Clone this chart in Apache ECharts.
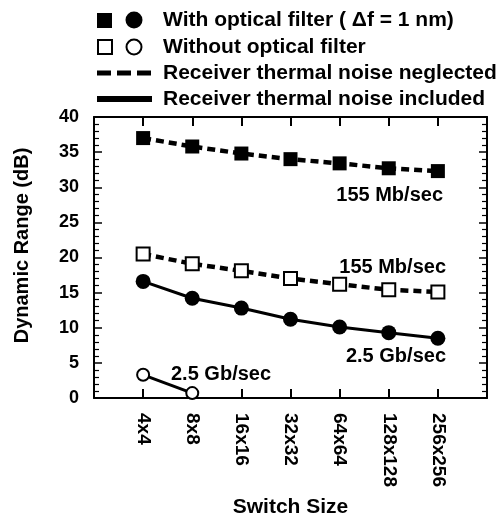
<!DOCTYPE html>
<html>
<head>
<meta charset="utf-8">
<script src="https://cdn.jsdelivr.net/npm/echarts@6/dist/echarts.min.js"></script>
<style>
html,body{margin:0;padding:0;background:#fff;}
#chart{width:496px;height:517px;}
</style>
</head>
<body>
<div id="chart"></div>
<script>
const categories = ['4x4', '8x8', '16x16', '32x32', '64x64', '128x128', '256x256'];
const withFilterNeglected = [37.0, 35.8, 34.8, 34.0, 33.4, 32.7, 32.3];
const withoutFilterNeglected = [20.5, 19.1, 18.1, 17.0, 16.2, 15.4, 15.1];
const withFilterIncluded = [16.6, 14.2, 12.8, 11.2, 10.1, 9.3, 8.5];
const withoutFilterIncluded = [3.3, 0.7];
const legendTexts = [
  'With optical filter ( \u0394f = 1 nm)',
  'Without optical filter',
  'Receiver thermal noise neglected',
  'Receiver thermal noise included'
];
const annotations = ['155 Mb/sec', '155 Mb/sec', '2.5 Gb/sec', '2.5 Gb/sec'];

const FONT = '"Liberation Sans", Arial, Helvetica, sans-serif';
const toPairs = arr => arr.map((v, i) => [i, v]);

const chart = echarts.init(document.getElementById('chart'), null, {renderer: 'canvas'});

const xBase = {
  type: 'value', min: -1, max: 7, interval: 1,
  axisLine: {show: true, onZero: false, lineStyle: {color: '#000', width: 2}},
  axisTick: {show: true, inside: true, length: 9, lineStyle: {color: '#000', width: 2}},
  splitLine: {show: false}
};
const yBase = {
  type: 'value', min: 0, max: 40, interval: 5,
  axisLine: {show: true, onZero: false, lineStyle: {color: '#000', width: 2}},
  axisTick: {show: true, inside: true, length: 8, lineStyle: {color: '#000', width: 1.5}},
  minorTick: {show: true, splitNumber: 5, length: 5, lineStyle: {color: '#000', width: 1.2}},
  splitLine: {show: false}
};

const legendY = [20, 47, 73, 99];

const option = {
  backgroundColor: '#fff',
  animation: false,
  grid: {left: 94, right: 9, top: 117, bottom: 119, containLabel: false, outerBoundsMode: 'none'},
  xAxis: [
    Object.assign({}, xBase, {
      position: 'bottom',
      axisLabel: {
        rotate: -90, margin: 15, color: '#000', fontSize: 19, fontWeight: 'bold', fontFamily: FONT,
        formatter: v => (categories[v] !== undefined ? categories[v] : '')
      },
      name: 'Switch Size', nameLocation: 'middle', nameGap: 99,
      nameTextStyle: {color: '#000', fontSize: 21, fontWeight: 'bold', fontFamily: FONT}
    }),
    Object.assign({}, xBase, {position: 'top', axisLabel: {show: false}})
  ],
  yAxis: [
    Object.assign({}, yBase, {
      position: 'left',
      axisLabel: {margin: 15, color: '#000', fontSize: 18, fontWeight: 'bold', fontFamily: FONT},
      name: 'Dynamic Range (dB)', nameLocation: 'middle', nameGap: 62, nameRotate: 90,
      nameTextStyle: {color: '#000', fontSize: 20, fontWeight: 'bold', fontFamily: FONT, padding: [0, 0, 0, 24]}
    }),
    Object.assign({}, yBase, {position: 'right', axisLabel: {show: false}})
  ],
  series: [
    {
      type: 'line', data: toPairs(withFilterNeglected),
      symbol: 'rect', symbolSize: 14,
      lineStyle: {color: '#000', width: 4.5, type: [8, 5]},
      itemStyle: {color: '#000'}, z: 3
    },
    {
      type: 'line', data: toPairs(withoutFilterNeglected),
      symbol: 'rect', symbolSize: 13,
      lineStyle: {color: '#000', width: 4.5, type: [8, 5]},
      itemStyle: {color: '#fff', borderColor: '#000', borderWidth: 2}, z: 3
    },
    {
      type: 'line', data: toPairs(withFilterIncluded),
      symbol: 'circle', symbolSize: 15,
      lineStyle: {color: '#000', width: 3},
      itemStyle: {color: '#000'}, z: 3
    },
    {
      type: 'line', data: toPairs(withoutFilterIncluded),
      symbol: 'circle', symbolSize: 12,
      lineStyle: {color: '#000', width: 3},
      itemStyle: {color: '#fff', borderColor: '#000', borderWidth: 2}, z: 3
    }
  ],
  graphic: [
    // legend icons
    {type: 'rect', shape: {x: 97, y: legendY[0] - 7, width: 15, height: 15}, style: {fill: '#000'}},
    {type: 'circle', shape: {cx: 134, cy: legendY[0], r: 8.5}, style: {fill: '#000'}},
    {type: 'rect', shape: {x: 98, y: legendY[1] - 7, width: 14, height: 14}, style: {fill: '#fff', stroke: '#000', lineWidth: 2}},
    {type: 'circle', shape: {cx: 134, cy: legendY[1], r: 7.5}, style: {fill: '#fff', stroke: '#000', lineWidth: 2}},
    {type: 'line', shape: {x1: 97, y1: legendY[2], x2: 152, y2: legendY[2]}, style: {stroke: '#000', lineWidth: 5, lineDash: [14, 6]}},
    {type: 'line', shape: {x1: 97, y1: legendY[3], x2: 152, y2: legendY[3]}, style: {stroke: '#000', lineWidth: 6}},
    // legend texts
    ...legendTexts.map((t, i) => ({
      type: 'text', x: 163, y: legendY[i],
      style: {text: t, fill: '#000', font: 'bold 21px ' + FONT, textVerticalAlign: 'middle', textAlign: 'left'}
    })),
    // annotations
    {type: 'text', x: 443, y: 195, style: {text: annotations[0], fill: '#000', font: 'bold 20px ' + FONT, textAlign: 'right', textVerticalAlign: 'middle'}},
    {type: 'text', x: 446, y: 267, style: {text: annotations[1], fill: '#000', font: 'bold 20px ' + FONT, textAlign: 'right', textVerticalAlign: 'middle'}},
    {type: 'text', x: 446, y: 356, style: {text: annotations[2], fill: '#000', font: 'bold 20px ' + FONT, textAlign: 'right', textVerticalAlign: 'middle'}},
    {type: 'text', x: 171, y: 374, style: {text: annotations[3], fill: '#000', font: 'bold 20px ' + FONT, textAlign: 'left', textVerticalAlign: 'middle'}}
  ]
};
chart.setOption(option);
</script>
</body>
</html>
